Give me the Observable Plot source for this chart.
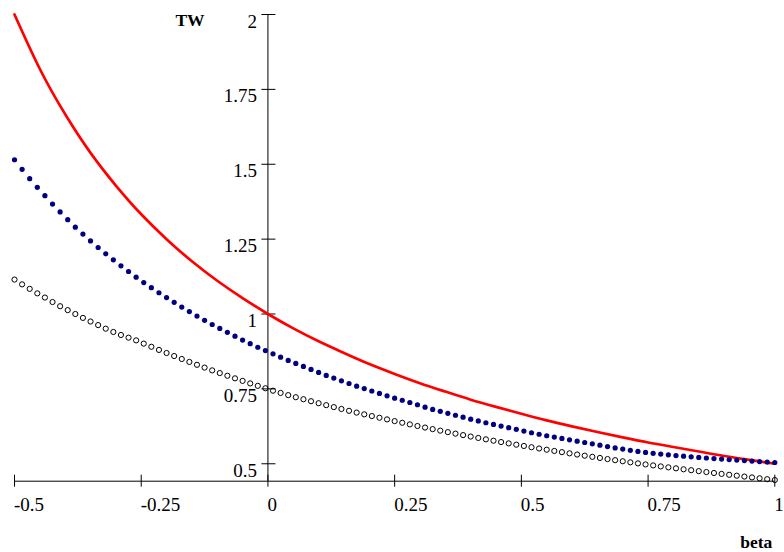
<!DOCTYPE html>
<html>
<head>
<meta charset="utf-8">
<script src="https://cdn.jsdelivr.net/npm/d3@7"></script>
<script src="https://cdn.jsdelivr.net/npm/@observablehq/plot@0.6"></script>
<style>
  html, body { margin: 0; padding: 0; background: #fff; }
  #chart svg { display: block; }
</style>
</head>
<body>
<div id="chart"></div>
<script>
// beta grid of the plotted points
const betas = [-0.5, -0.485, -0.47, -0.455, -0.44, -0.425, -0.41, -0.395, -0.38, -0.365, -0.35, -0.335, -0.32, -0.305, -0.29, -0.275, -0.26, -0.245, -0.23, -0.215, -0.2, -0.185, -0.17, -0.155, -0.14, -0.125, -0.11, -0.095, -0.08, -0.065, -0.05, -0.035, -0.02, -0.005, 0.01, 0.025, 0.04, 0.055, 0.07, 0.085, 0.1, 0.115, 0.13, 0.145, 0.16, 0.175, 0.19, 0.205, 0.22, 0.235, 0.25, 0.265, 0.28, 0.295, 0.31, 0.325, 0.34, 0.355, 0.37, 0.385, 0.4, 0.415, 0.43, 0.445, 0.46, 0.475, 0.49, 0.505, 0.52, 0.535, 0.55, 0.565, 0.58, 0.595, 0.61, 0.625, 0.64, 0.655, 0.67, 0.685, 0.7, 0.715, 0.73, 0.745, 0.76, 0.775, 0.79, 0.805, 0.82, 0.835, 0.85, 0.865, 0.88, 0.895, 0.91, 0.925, 0.94, 0.955, 0.97, 0.985, 1];

// filled navy dots
const twBlue = [1.515, 1.483, 1.452, 1.423, 1.395, 1.367, 1.341, 1.315, 1.290, 1.267, 1.244, 1.222, 1.201, 1.181, 1.161, 1.142, 1.123,
  1.105, 1.088, 1.071, 1.055, 1.039, 1.023, 1.008, 0.993, 0.979, 0.965, 0.952, 0.939, 0.926, 0.913, 0.901, 0.889, 0.878,
  0.867, 0.856, 0.845, 0.835, 0.825, 0.815, 0.805, 0.795, 0.786, 0.777, 0.768, 0.759, 0.751, 0.743, 0.735, 0.727, 0.719,
  0.712, 0.7045, 0.697, 0.689, 0.6815, 0.675, 0.6685, 0.662, 0.6555, 0.649, 0.643, 0.637, 0.6315, 0.626, 0.6205, 0.615,
  0.609, 0.6035, 0.5985, 0.5935, 0.589, 0.5845, 0.580, 0.5755, 0.571, 0.5665, 0.562, 0.5575, 0.553,
  0.5490, 0.5450, 0.5413, 0.5380, 0.5350, 0.5323, 0.5298, 0.5275, 0.5253, 0.5232, 0.5212, 0.5193, 0.5175, 0.5157, 0.5140, 0.5123, 0.5106, 0.5090, 0.5074, 0.5058, 0.5042];

// open black circles
const twOpen = [1.115, 1.099, 1.084, 1.069, 1.055, 1.040, 1.026, 1.013, 1.000, 0.987, 0.975, 0.963, 0.951, 0.940, 0.930, 0.921, 0.912,
  0.9012, 0.8906, 0.8801, 0.8698, 0.8597, 0.8498, 0.8400, 0.8305, 0.8211, 0.8118, 0.8028, 0.7939, 0.7852, 0.7767, 0.7683, 0.7601, 0.7521,
  0.7440, 0.7365, 0.7292, 0.7222, 0.7155, 0.7089, 0.7022, 0.6957, 0.6892, 0.6830, 0.6768, 0.6708, 0.6650, 0.6593, 0.6537, 0.6482,
  0.6424, 0.6369, 0.6315, 0.6261, 0.6209, 0.6157, 0.6106, 0.6056, 0.6006, 0.5957, 0.5909, 0.5862, 0.5816, 0.5770, 0.5725, 0.5681, 0.5637,
  0.5594, 0.5552, 0.5510, 0.5469, 0.5428, 0.5388, 0.5348, 0.5309, 0.5270, 0.5232, 0.5194, 0.5157, 0.5120, 0.5084, 0.5048, 0.5013, 0.4978,
  0.4945, 0.4912, 0.4880, 0.4848, 0.4816, 0.4785, 0.4754, 0.4723, 0.4692, 0.4662, 0.4632, 0.4602, 0.4573, 0.4544, 0.4515, 0.4486, 0.4457];

// red curve, read every 0.05
const redBeta = [-0.5, -0.45, -0.4, -0.35, -0.3, -0.25, -0.2, -0.15, -0.1, -0.05, 0, 0.05, 0.1, 0.15, 0.2, 0.25, 0.3, 0.35, 0.4, 0.45, 0.5, 0.55, 0.6, 0.65, 0.7, 0.75, 0.8, 0.85, 0.9, 0.95, 1];
const twRed = [2, 1.818, 1.667, 1.538, 1.429, 1.333, 1.25, 1.176, 1.111, 1.053, 1, 0.952, 0.909, 0.870, 0.833, 0.8, 0.769, 0.741, 0.714, 0.690, 0.667, 0.645, 0.625, 0.606, 0.588, 0.571, 0.556, 0.541, 0.526, 0.513, 0.5];

const xTicks = [-0.5, -0.25, 0, 0.25, 0.5, 0.75, 1];
const xTickLabels = ["-0.5", "-0.25", "0", "0.25", "0.5", "0.75", "1"];
const yTicks = [0.5, 0.75, 1, 1.25, 1.5, 1.75, 2];
const yTickLabels = ["0.5", "0.75", "1", "1.25", "1.5", "1.75", "2"];
const xDomain = [-0.5, 1];
const yDomain = [0.4418, 2];
const xTitle = "beta";
const yTitle = "TW";

const blueData = betas.map((b, i) => ({beta: b, tw: twBlue[i]}));
const openData = betas.map((b, i) => ({beta: b, tw: twOpen[i]}));
const redData = redBeta.map((b, i) => ({beta: b, tw: twRed[i]}));

const serif = "'Liberation Serif', 'Times New Roman', serif";

const chart = Plot.plot({
  width: 784,
  height: 552,
  marginLeft: 14,
  marginRight: 9.7,
  marginTop: 14,
  marginBottom: 71.3,
  style: {fontFamily: serif, background: "#fff"},
  x: {domain: xDomain, axis: null},
  y: {domain: yDomain, axis: null},
  marks: [
    // axes lines crossing at beta = 0
    Plot.ruleX([0], {stroke: "#000", strokeWidth: 1}),
    Plot.ruleY([yDomain[0]], {stroke: "#000", strokeWidth: 1}),
    // x ticks crossing the axis
    Plot.ruleX(xTicks, {x: d => d, y1: yDomain[0], y2: yDomain[0], insetTop: -6, insetBottom: -6, stroke: "#000", strokeWidth: 1}),
    Plot.text(xTicks, {x: d => d, y: yDomain[0], text: (d, i) => xTickLabels[i], textAnchor: "start", lineAnchor: "top", dy: 16.2, dx: -0.5, fontSize: 19, fill: "#000"}),
    // y ticks crossing the axis
    Plot.ruleY(yTicks, {y: d => d, x1: 0, x2: 0, insetLeft: -6, insetRight: -8, stroke: "#000", strokeWidth: 1}),
    Plot.text(yTicks, {x: 0, y: d => d, text: (d, i) => yTickLabels[i], textAnchor: "end", lineAnchor: "top", dx: -11, dy: -0.5, fontSize: 19, fill: "#000"}),
    // axis titles
    Plot.text([yTitle], {x: 0, y: yDomain[1], text: d => d, textAnchor: "start", lineAnchor: "top", dx: -92.5, dy: -1, fontSize: 17.5, fontWeight: "bold", fill: "#000"}),
    Plot.text([xTitle], {x: xDomain[1], y: yDomain[0], text: d => d, textAnchor: "end", lineAnchor: "top", dx: -2.5, dy: 54, fontSize: 17.5, fontWeight: "bold", fill: "#000"}),
    // data
    Plot.line(redData, {x: "beta", y: "tw", stroke: "#ff0000", strokeWidth: 2.7, curve: "natural"}),
    Plot.dot(blueData, {x: "beta", y: "tw", r: 2.6, fill: "#000080", stroke: "none"}),
    Plot.dot(openData, {x: "beta", y: "tw", r: 2.6, fill: "none", stroke: "#000", strokeWidth: 1})
  ]
});

document.getElementById("chart").appendChild(chart);
</script>
</body>
</html>
